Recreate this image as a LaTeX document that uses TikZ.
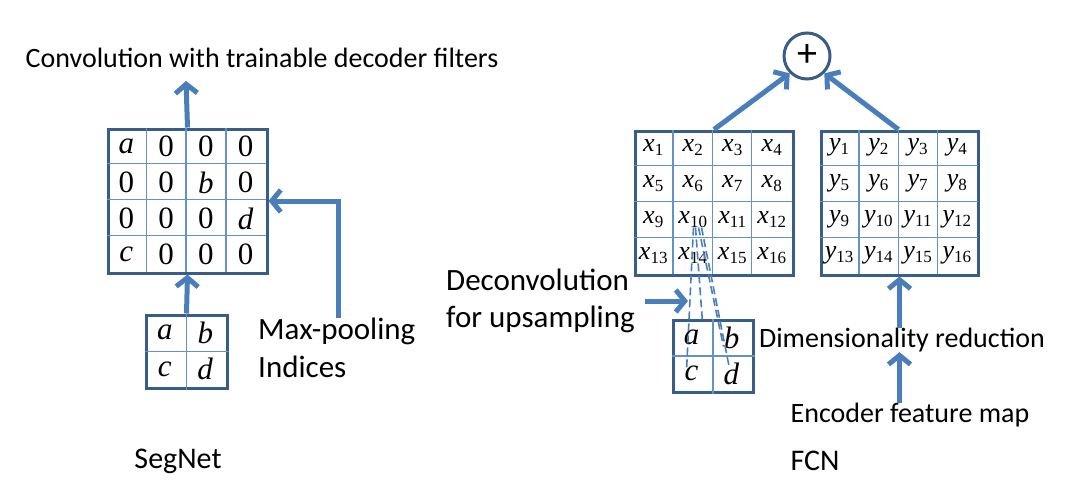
\documentclass[tikz,border=0pt]{standalone}
\usepackage{fontspec}
\setmainfont{Carlito}
\newfontfamily\cellfont{Liberation Serif}
\usetikzlibrary{arrows.meta,positioning,calc}

\definecolor{arrowblue}{RGB}{74,126,187}
\definecolor{frameblue}{RGB}{56,93,138}
\definecolor{cellblue}{RGB}{100,145,200}

\newcommand\entry[2]{\textit{#1}\raisebox{-0.3ex}{\fontsize{17}{17}\selectfont #2}}

\tikzset{
  flow/.style={draw=arrowblue, line width=5pt, -{Straight Barb[length=9pt,width=22pt]}},
  gridbox/.style={draw=frameblue, line width=3pt, inner sep=0pt},
  cellline/.style={draw=cellblue, line width=1.5pt},
  bigcell/.style={font=\cellfont\fontsize{31}{31}\selectfont, inner sep=0pt},
  smallcell/.style={font=\cellfont\fontsize{26}{26}\selectfont, inner sep=0pt},
  txt/.style={font=\fontsize{28}{37}\selectfont, inner sep=0pt},
  link/.style={draw=arrowblue, line width=1.6pt, dash pattern=on 8pt off 4pt},
}

\begin{document}
\begin{tikzpicture}[x=1pt, y=-1pt]
    \useasboundingbox (0,0) rectangle (1086,503);

    % SegNet
    \node[gridbox, minimum width=159pt, minimum height=144pt] (seg) at (187.5,201) {};
    \foreach \i in {1,2,3} {
        \draw[cellline] ($(seg.north west)+(\i*39.75,0)$) -- ++(0,144);
        \draw[cellline] ($(seg.north west)+(0,\i*36)$) -- ++(159,0);
    }
    \foreach \t [count=\k from 0] in {\textit{a},0,0,0, 0,0,\textit{b},0, 0,0,0,\textit{d}, \textit{c},0,0,0} {
        \pgfmathtruncatemacro{\col}{mod(\k,4)}
        \pgfmathtruncatemacro{\row}{\k/4}
        \node[bigcell] (seg-\k) at ($(seg.north west)+({(\col+0.5)*39.75},{(\row+0.5)*36+1})$) {\t};
    }

    \node[gridbox, minimum width=81pt, minimum height=73pt] (pool) at (186.5,351.5) {};
    \draw[cellline] (pool.north) -- (pool.south);
    \draw[cellline] (pool.west) -- (pool.east);
    \foreach \t [count=\k from 0] in {a,b,c,d} {
        \pgfmathtruncatemacro{\col}{mod(\k,2)}
        \pgfmathtruncatemacro{\row}{\k/2}
        \node[bigcell] (pool-\k) at ($(pool.north west)+({(\col+0.5)*40.5},{(\row+0.5)*36.5+1})$) {\textit{\t}};
    }

    \node[txt] (conv) at (262,58) {Convolution with trainable decoder filters};
    \coordinate (convtip) at (186,81);
    \draw[flow] (seg.north) -- (convtip);
    \draw[flow] (pool.north) -- (seg.south);

    \node[txt, font=\fontsize{31}{38}\selectfont, align=left, anchor=north west] (idx) at (258,318) {Max-pooling\\Indices};
    \coordinate (idxbend) at (338,201);
    \draw[flow] (idx.north west -| idxbend) -- (idxbend) -- (seg.east |- idxbend);

    \node[txt, font=\fontsize{30}{30}\selectfont] (segnet) at (178,461) {SegNet};

    % FCN
    \node[gridbox, minimum width=158pt, minimum height=144pt] (xg) at (714,203) {};
    \node[gridbox, minimum width=157pt, minimum height=144pt] (yg) at (899.5,203) {};
    \foreach \g in {xg,yg} {
        \foreach \i in {1,2,3} {
            \draw[cellline] ($(\g.north west)+(\i*39.4,0)$) -- ++(0,144);
            \draw[cellline] ($(\g.north west)+(0,\i*36)$) -- ++(158,0);
        }
    }
    \foreach \k in {1,...,16} {
        \pgfmathtruncatemacro{\col}{mod(\k-1,4)}
        \pgfmathtruncatemacro{\row}{(\k-1)/4}
        \node[smallcell] (xg-\k) at ($(xg.north west)+({(\col+0.5)*39.5},{(\row+0.5)*36})$) {\entry{x}{\k}};
        \node[smallcell] (yg-\k) at ($(yg.north west)+({(\col+0.5)*39.25},{(\row+0.5)*36})$) {\entry{y}{\k}};
    }

    \node[circle, draw=frameblue, line width=3pt, minimum size=46pt, inner sep=0pt, font=\fontsize{40}{40}\selectfont] (sum) at (807,56) {+};
    \draw[flow] (xg.north) -- (sum.225);
    \draw[flow] ($(yg.north west)+(79,0)$) -- (sum.315);

    \node[gridbox, minimum width=80pt, minimum height=72pt] (up) at (713,356) {};
    \draw[cellline] (up.north) -- (up.south);
    \draw[cellline] (up.west) -- (up.east);
    \foreach \t [count=\k from 0] in {a,b,c,d} {
        \pgfmathtruncatemacro{\col}{mod(\k,2)}
        \pgfmathtruncatemacro{\row}{\k/2}
        \node[bigcell] (up-\k) at ($(up.north west)+({(\col+0.5)*40},{(\row+0.5)*36+1})$) {\textit{\t}};
    }
    % deconvolution footprint
    \foreach \sx/\ex/\ey in {60/15/52, 62/31/4, 65/52/28, 68/58/50} {
        \draw[link] ($(xg.north west)+(\sx,98)$) -- ($(up.north west)+(\ex,\ey)$);
    }

    \node[txt, font=\fontsize{31}{37}\selectfont, align=left, anchor=west] (deconv) at (446,301) {Deconvolution\\for upsampling};
    \coordinate (deconvtail) at (645,301);
    \coordinate (deconvtip) at (688,301);
    \draw[flow] (deconvtail) -- (deconvtip);

    \node[txt] (dim) at (902,340) {Dimensionality reduction};
    \node[txt] (enc) at (910,415) {Encoder feature map};
    \draw[flow] (dim.north -| yg.south) -- (yg.south);
    \draw[flow] (enc.north -| yg.south) -- (dim.south -| yg.south);

    \node[txt, font=\fontsize{30}{30}\selectfont] (fcn) at (815,461) {FCN};
\end{tikzpicture}
\end{document}
